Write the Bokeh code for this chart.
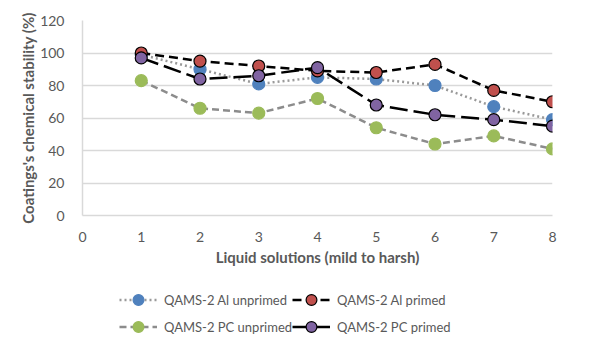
from bokeh.plotting import figure
from bokeh.models import Legend, LegendItem, FixedTicker, Range1d
from bokeh.layouts import column
from bokeh.embed import file_html
from bokeh.resources import INLINE

x = [1, 2, 3, 4, 5, 6, 7, 8]
al_unprimed = [99, 90, 81, 85, 84, 80, 67, 59]
al_primed = [100, 95, 92, 89, 88, 93, 77, 70]
pc_unprimed = [83, 66, 63, 72, 54, 44, 49, 41]
pc_primed = [97, 84, 86, 91, 68, 62, 59, 55]
labels = ["QAMS-2 Al unprimed", "QAMS-2 Al primed", "QAMS-2 PC unprimed", "QAMS-2 PC primed"]
x_ticks = [0, 1, 2, 3, 4, 5, 6, 7, 8]
y_ticks = [0, 20, 40, 60, 80, 100, 120]

FONT = "Lato"
TXT = "#595959"

p = figure(width=587, height=270, output_backend="svg", toolbar_location=None,
           x_range=Range1d(0, 8), y_range=Range1d(0, 120),
           min_border_left=82, min_border_right=35, min_border_top=20, min_border_bottom=55)
p.outline_line_color = None
p.background_fill_color = "white"

p.xaxis.ticker = FixedTicker(ticks=x_ticks)
p.yaxis.ticker = FixedTicker(ticks=y_ticks)
for ax in (p.xaxis[0], p.yaxis[0]):
    ax.major_tick_line_color = None
    ax.minor_tick_line_color = None
    ax.major_label_text_font = FONT
    ax.major_label_text_font_size = "14px"
    ax.major_label_text_color = TXT
    ax.axis_label_text_font = FONT
    ax.axis_label_text_font_size = "15px"
    ax.axis_label_text_font_style = "bold"
    ax.axis_label_text_color = TXT
    ax.axis_line_color = "#d9d9d9"
    ax.axis_line_width = 1.5
p.xaxis.axis_label = "Liquid solutions (mild to harsh)"
p.yaxis.axis_label = "Coatings's chemical stability (%)"
p.xaxis.major_label_standoff = 10
p.yaxis.major_label_standoff = 12
p.xaxis.axis_label_standoff = 3
p.yaxis.axis_label_standoff = 0

p.xgrid.grid_line_color = None
p.ygrid.grid_line_color = "#d9d9d9"
p.ygrid.grid_line_width = 1.5

series = [
    (al_unprimed, "#999999", "2 3", "#4f81bd", "#4f81bd"),
    (al_primed, "black", "9 5", "#c0504d", "black"),
    (pc_unprimed, "#8c8c8c", "7 4", "#9bbb59", "#9bbb59"),
    (pc_primed, "black", "18 6", "#8064a2", "black"),
]
for ys, lc, dash, fc, oc in series:
    p.line(x, ys, line_color=lc, line_width=2.5, line_dash=dash)
    p.scatter(x, ys, size=12, fill_color=fc, line_color=oc, line_width=1.2)

# Legend strip below the chart (same series, drawn out of view; only the legend shows)
q = figure(width=587, height=70, output_backend="svg", toolbar_location=None,
           x_range=Range1d(100, 101), y_range=Range1d(100, 101),
           min_border_left=0, min_border_right=0, min_border_top=0, min_border_bottom=0)
q.axis.visible = False
q.grid.visible = False
q.outline_line_color = None
items = {}
for (ys, lc, dash, fc, oc), lab in zip(series, labels):
    lr = q.line(x, ys, line_color=lc, line_width=2.5, line_dash=dash)
    sr = q.scatter(x, ys, size=9, fill_color=fc, line_color=oc, line_width=1.2)
    items[lab] = LegendItem(label=lab, renderers=[lr, sr])
order = [labels[0], labels[2], labels[1], labels[3]]
legend = Legend(items=[items[k] for k in order], ncols=2, location=(37, 0),
                label_text_font=FONT, label_text_font_size="13px", label_text_color=TXT,
                glyph_width=38, glyph_height=27, label_height=27, label_standoff=7,
                spacing=0, padding=0, margin=0, border_line_color=None,
                background_fill_alpha=0)
q.add_layout(legend, "center")

layout = column(p, q, spacing=0)
open("out.html", "w").write(file_html(layout, INLINE))
